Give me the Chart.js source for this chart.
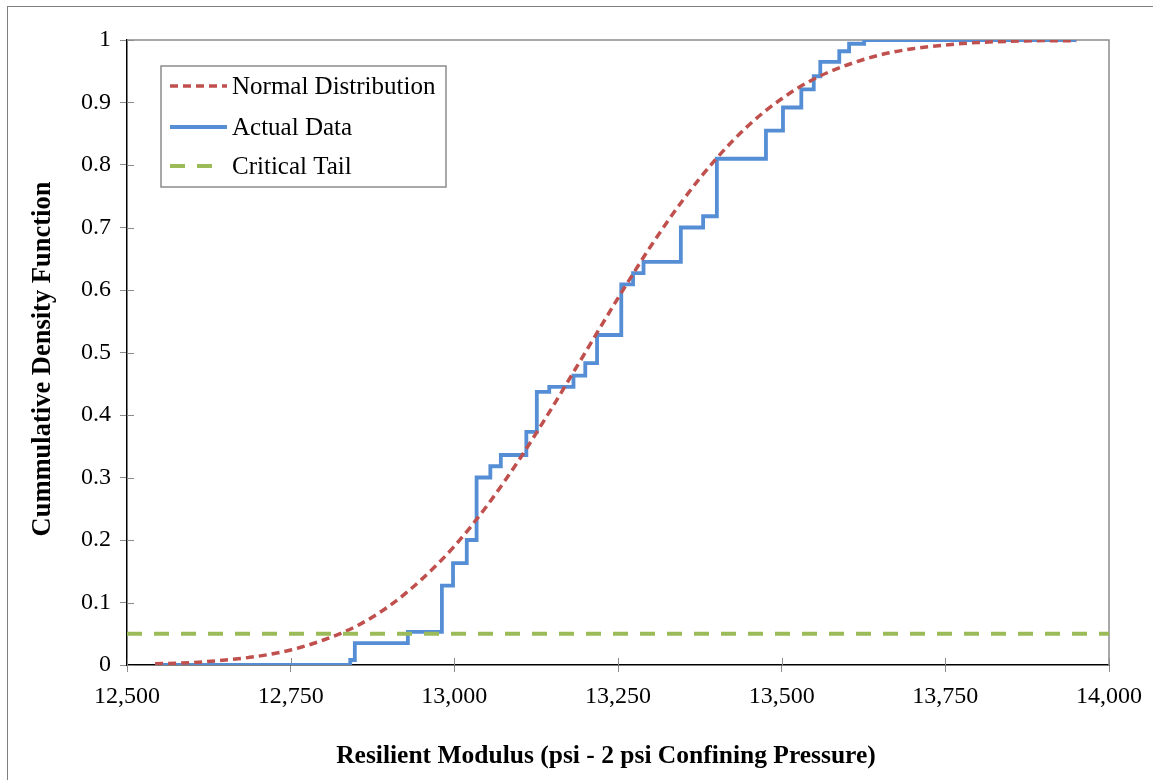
<!DOCTYPE html>
<html>
<head>
<meta charset="utf-8">
<script src="https://cdn.jsdelivr.net/npm/chart.js@4.4.1/dist/chart.umd.min.js"></script>
<style>
    html, body { margin: 0; padding: 0; background: #fff; }
    #wrap { position: relative; width: 1153px; height: 780px; overflow: hidden; }
    #edge { position: absolute; left: 7px; top: 6px; width: 1160px; height: 800px;
            border-left: 1px solid #7f7f7f; border-top: 1px solid #7f7f7f; pointer-events: none; }
    canvas { position: absolute; left: 0; top: 0; }
</style>
</head>
<body>
<div id="wrap">
    <canvas id="cdfChart" width="1153" height="780"></canvas>
    <div id="edge"></div>
</div>
<script>
// Empirical CDF of the measured moduli (step positions and levels)
const actualX = [12543, 12841, 12848, 12929, 12981, 12998, 13019, 13034, 13055, 13071,
                 13110, 13126, 13145, 13182, 13200, 13218, 13255, 13273, 13289, 13346,
                 13380, 13401, 13476, 13502, 13530, 13549, 13559, 13588, 13603, 13626, 13950];
const actualY = [0, 0.008, 0.035, 0.053, 0.127, 0.163, 0.2, 0.3, 0.318, 0.336,
                 0.373, 0.437, 0.445, 0.463, 0.483, 0.528, 0.609, 0.627, 0.645, 0.7,
                 0.718, 0.81, 0.855, 0.892, 0.921, 0.942, 0.965, 0.982, 0.994, 1, 1];

// Fitted normal CDF
const normalX = [12543, 12600, 12650, 12700, 12750, 12800, 12850, 12900, 12950, 13000,
                 13050, 13100, 13150, 13200, 13250, 13300, 13350, 13400, 13450, 13500,
                 13550, 13600, 13650, 13700, 13750, 13800, 13850, 13900, 13950];
const normalY = [0.002, 0.004, 0.008, 0.014, 0.024, 0.040, 0.062, 0.094, 0.137, 0.190,
                 0.255, 0.330, 0.413, 0.500, 0.587, 0.670, 0.745, 0.810, 0.864, 0.906,
                 0.938, 0.960, 0.976, 0.986, 0.992, 0.996, 0.998, 0.999, 0.999];

// 5% critical tail
const tailX = [12500, 14000];
const tailY = [0.05, 0.05];

const seriesNames = ["Normal Distribution", "Actual Data", "Critical Tail"];
const xTitle = "Resilient Modulus (psi - 2 psi Confining Pressure)";
const yTitle = "Cummulative Density Function";

const RED = "#C0504D", BLUE = "#558ED5", GREEN = "#9BBB59";
const SERIF = "'Liberation Serif', 'Times New Roman', serif";

function pairs(xs, ys) {
    return xs.map((x, i) => ({ x: x, y: ys[i] }));
}

// plot frame (gray top/right edges) and inner halves of the cross ticks
const framePlugin = {
    id: "frame",
    beforeDatasetsDraw(chart) {
        const { ctx, chartArea: a, scales } = chart;
        ctx.save();
        ctx.strokeStyle = "#8c8c8c";
        ctx.lineWidth = 1.5;
        ctx.beginPath();
        ctx.moveTo(a.left, a.top);
        ctx.lineTo(a.right, a.top);
        ctx.lineTo(a.right, a.bottom);
        ctx.stroke();

        ctx.lineWidth = 1;
        ctx.beginPath();
        scales.x.ticks.forEach(t => {
            const px = Math.round(scales.x.getPixelForValue(t.value)) + 0.5;
            ctx.moveTo(px, a.bottom);
            ctx.lineTo(px, a.bottom - 7);
        });
        scales.y.ticks.forEach(t => {
            const py = Math.round(scales.y.getPixelForValue(t.value)) + 0.5;
            ctx.moveTo(a.left, py);
            ctx.lineTo(a.left + 7, py);
        });
        ctx.stroke();
        ctx.restore();
    }
};

// legend box and axis titles
const overlayPlugin = {
    id: "overlay",
    afterDraw(chart) {
        const ctx = chart.ctx;
        ctx.save();
        ctx.fillStyle = "#fff";
        ctx.fillRect(161, 66, 285, 121);
        ctx.strokeStyle = "#8c8c8c";
        ctx.lineWidth = 1.5;
        ctx.strokeRect(161, 66, 285, 121);

        const rows = [
            { y: 86, color: RED, dash: [8, 5], width: 3.5, x2: 227 },
            { y: 127, color: BLUE, dash: [], width: 3.8, x2: 227 },
            { y: 166, color: GREEN, dash: [15, 12], width: 4, x2: 213 }
        ];
        rows.forEach((r, i) => {
            ctx.beginPath();
            ctx.setLineDash(r.dash);
            ctx.strokeStyle = r.color;
            ctx.lineWidth = r.width;
            ctx.lineCap = "butt";
            ctx.moveTo(170, r.y);
            ctx.lineTo(r.x2, r.y);
            ctx.stroke();
            ctx.setLineDash([]);
            ctx.fillStyle = "#000";
            ctx.font = "25px " + SERIF;
            ctx.textBaseline = "middle";
            ctx.textAlign = "left";
            ctx.fillText(seriesNames[i], 232, r.y + 1);
        });

        ctx.fillStyle = "#000";
        ctx.textAlign = "center";
        ctx.textBaseline = "middle";
        ctx.font = "bold 25.5px " + SERIF;
        ctx.fillText(xTitle, 606, 756);
        ctx.font = "bold 26.5px " + SERIF;
        ctx.translate(43, 359);
        ctx.rotate(-Math.PI / 2);
        ctx.fillText(yTitle, 0, 0);
        ctx.restore();
    }
};

const ctx = document.getElementById("cdfChart").getContext("2d");

new Chart(ctx, {
    type: "line",
    data: {
        datasets: [
            {
                label: seriesNames[2],
                data: pairs(tailX, tailY),
                borderColor: GREEN,
                borderWidth: 4,
                borderDash: [15, 12],
                pointRadius: 0
            },
            {
                label: seriesNames[0],
                data: pairs(normalX, normalY),
                borderColor: RED,
                borderWidth: 3.5,
                borderDash: [8, 5],
                cubicInterpolationMode: "monotone",
                pointRadius: 0
            },
            {
                label: seriesNames[1],
                data: pairs(actualX, actualY),
                borderColor: BLUE,
                borderWidth: 3.8,
                stepped: "before",
                pointRadius: 0
            }
        ]
    },
    options: {
        responsive: false,
        animation: false,
        events: [],
        layout: { padding: { left: 0, top: 40, right: 44, bottom: 0 } },
        plugins: {
            legend: { display: false },
            tooltip: { enabled: false }
        },
        scales: {
            x: {
                type: "linear",
                min: 12500,
                max: 14000,
                afterFit: scale => { scale.height = 115; },
                border: { color: "#000", width: 1.5 },
                grid: { drawOnChartArea: false, tickLength: 7, color: "#8c8c8c" },
                ticks: {
                    stepSize: 250,
                    padding: 10,
                    maxRotation: 0,
                    color: "#000",
                    font: { family: SERIF, size: 24 },
                    callback: value => value.toLocaleString("en-US")
                }
            },
            y: {
                min: 0,
                max: 1,
                afterFit: scale => { scale.width = 127; },
                border: { color: "#000", width: 1.5 },
                grid: { drawOnChartArea: false, tickLength: 7, color: "#8c8c8c" },
                ticks: {
                    stepSize: 0.1,
                    padding: 9,
                    color: "#000",
                    font: { family: SERIF, size: 24 },
                    callback: value => String(Math.round(value * 10) / 10)
                }
            }
        }
    },
    plugins: [framePlugin, overlayPlugin]
});
</script>
</body>
</html>
